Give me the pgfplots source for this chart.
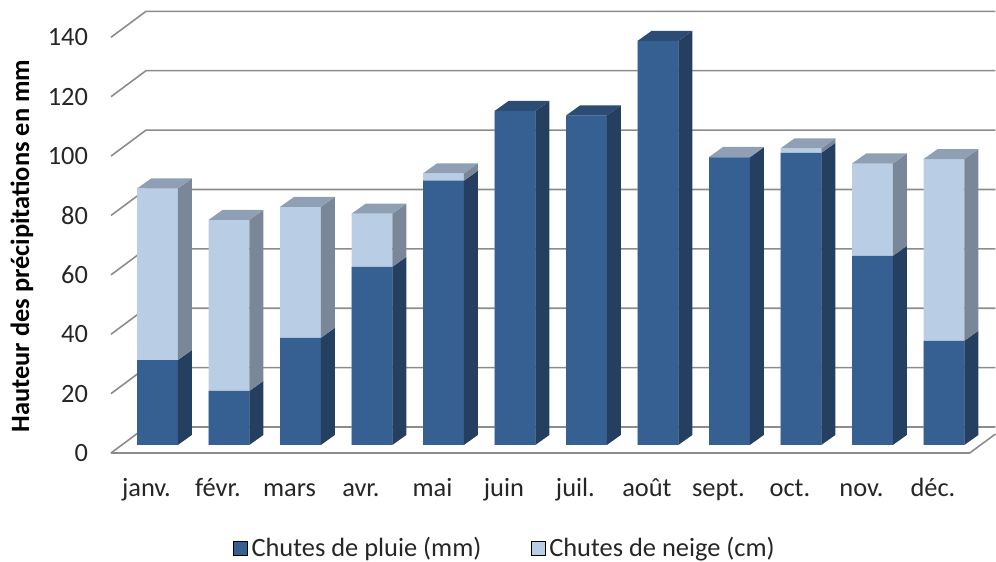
\documentclass[border=0pt]{standalone}
\usepackage{fontspec}
\setmainfont{Carlito}
\usepackage{pgfplots}
\usepackage{pgfplotstable}
\pgfplotsset{compat=1.18}
\definecolor{rainF}{HTML}{376092}
\definecolor{rainS}{HTML}{243F60}
\definecolor{rainT}{HTML}{2C4C74}
\definecolor{snowF}{HTML}{B9CDE5}
\definecolor{snowS}{HTML}{7A8799}
\definecolor{snowT}{HTML}{8FA0B5}
\definecolor{gridc}{HTML}{8C8C8C}
\definecolor{txt}{HTML}{262626}
\newcommand\chfont{\fontsize{13.2}{15.8}\selectfont}

\pgfplotstableread{
idx rain snow
0 28.6 57.8
1 18.2 57.6
2 36.1 44.1
3 60.0 17.9
4 89.0 2.5
5 112.5 0
6 111.0 0
7 136.1 0
8 96.9 0.1
9 98.4 1.5
10 63.7 31.1
11 35.1 61.2
}\datatable
\pgfplotstablecreatecol[expr={\thisrow{rain}+\thisrow{snow}}]{total}\datatable

\begin{document}
\begin{tikzpicture}
\begin{axis}[
  scale only axis, width=441.5pt, height=221.5pt,
  xmin=-0.65, xmax=11.7, ymin=-2.7, ymax=146.5,
  clip=false,
  axis line style={draw=none},
  major tick length=0pt,
  xtick={0,...,11},
  xticklabels={janv.,févr.,mars,avr.,mai,juin,juil.,août,sept.,oct.,nov.,déc.},
  ytick={-2.7,17.3,37.3,57.3,77.3,97.3,117.3,137.3},
  yticklabels={0,20,40,60,80,100,120,140},
  tick label style={font=\chfont, text=txt},
  xticklabel style={inner sep=0pt, text height=9.5pt, text depth=2.5pt, yshift=-12pt, xshift=-5.5pt},
  yticklabel style={xshift=-8pt},
  ylabel={Hauteur des précipitations en mm},
  every axis y label/.style={at={(axis description cs:-0.1008,0.467)}, rotate=90, anchor=center, font=\chfont\bfseries, text=black},
  legend image code/.code={\fill[#1] (0pt,-3.5pt) rectangle (7pt,3.5pt);},
  legend style={at={(axis description cs:0.447,-0.216)}, anchor=center, draw=none, fill=none,
    font=\chfont, text=txt, inner sep=0pt, nodes={inner sep=1.75pt},
    /tikz/every even column/.append style={column sep=23pt}},
  legend columns=2,
  legend cell align=left,
]
% back wall gridlines with left slant (3D frame)
\pgfplotsinvokeforeach{0,20,40,60,80,100,120,140}{
  \pgfmathsetmacro\ya{#1-2.7}
  \pgfmathsetmacro\yb{#1+6.06}
  \edef\tmp{\noexpand\addplot[gridc, line width=0.8pt, forget plot] coordinates {(-0.65,\ya) (-0.16,\yb) (11.72,\yb)};}\tmp
}
% floor front edge
\addplot[gridc, line width=0.8pt, forget plot] coordinates {(-0.65,-2.7) (11.36,-2.7) (11.72,3.7)};

% front faces
\addplot[ybar, bar width=0.57, bar shift=0pt, fill=snowF, draw=none, forget plot] table[x=idx, y=total]{\datatable};
\addplot[ybar, bar width=0.57, bar shift=0pt, fill=rainF, draw=none, forget plot] table[x=idx, y=rain]{\datatable};

% side and top faces
\pgfplotsinvokeforeach{0,...,11}{
  \pgfplotstablegetelem{#1}{rain}\of\datatable \let\vR\pgfplotsretval
  \pgfplotstablegetelem{#1}{snow}\of\datatable \let\vS\pgfplotsretval
  \pgfmathsetmacro\xA{#1+0.285}
  \pgfmathsetmacro\xB{#1+0.481}
  \pgfmathsetmacro\xC{#1-0.285}
  \pgfmathsetmacro\xD{#1-0.089}
  \pgfmathsetmacro\vT{\vR+\vS}
  \pgfmathsetmacro\vRd{\vR+3.37}
  \pgfmathsetmacro\vTd{\vT+3.37}
  \edef\tmp{\noexpand\addplot[fill=rainS, draw=none, forget plot] coordinates {(\xA,0) (\xB,3.37) (\xB,\vRd) (\xA,\vR)} -- cycle;}\tmp
  \ifdim\vS pt>0.05pt
    \edef\tmp{\noexpand\addplot[fill=snowS, draw=none, forget plot] coordinates {(\xA,\vR) (\xB,\vRd) (\xB,\vTd) (\xA,\vT)} -- cycle;}\tmp
    \def\tc{snowT}
  \else
    \def\tc{rainT}
  \fi
  \edef\tmp{\noexpand\addplot[fill=\tc, draw=none, forget plot] coordinates {(\xC,\vT) (\xD,\vTd) (\xB,\vTd) (\xA,\vT)} -- cycle;}\tmp
}

\addlegendimage{fill=rainF}
\addlegendentry{Chutes de pluie (mm)}
\addlegendimage{fill=snowF}
\addlegendentry{Chutes de neige (cm)}
\end{axis}
\pgfresetboundingbox
\path[use as bounding box] ([shift={(-55.5pt,-54.5pt)}]current axis.south west) rectangle ([shift={(1pt,5pt)}]current axis.north east);
\end{tikzpicture}
\end{document}
